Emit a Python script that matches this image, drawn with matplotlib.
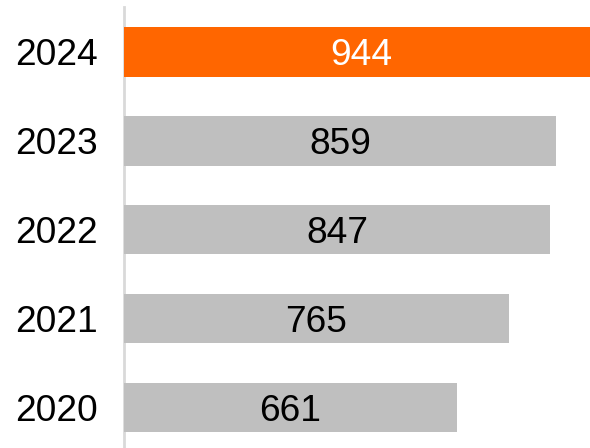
import matplotlib
matplotlib.use("Agg")
import matplotlib.pyplot as plt

years = ["2020", "2021", "2022", "2023", "2024"]
values = [661, 765, 847, 859, 944]
colors = ["#bfbfbf", "#bfbfbf", "#bfbfbf", "#bfbfbf", "#ff6600"]
label_colors = ["black", "black", "black", "black", "white"]

plt.rcParams['font.family'] = ['Liberation Sans', 'DejaVu Sans']
FS = 26.7

fig = plt.figure(figsize=(5.9, 4.48), dpi=100)
ax = fig.add_axes([124/590, 0, 1 - 124/590, 441/448])
pos = list(range(len(years)))
ax.barh(pos, values, height=0.557, color=colors, zorder=2)
for p, v, c in zip(pos, values, label_colors):
    ax.annotate(str(v), (v / 2, p), xytext=(0, -0.716 * FS / 2), textcoords="offset points",
                ha="center", va="baseline", fontsize=FS, color=c, zorder=3)

ax.set_xlim(0, 926)
ax.set_ylim(-0.456, 4.506)
ax.set_yticks(pos)
ax.set_yticklabels(years, fontsize=FS)
ax.tick_params(axis="y", length=0, pad=19)
ax.set_xticks([])
for s in ["top", "right", "bottom"]:
    ax.spines[s].set_visible(False)
ax.spines["left"].set_color("#d9d9d9")
ax.spines["left"].set_linewidth(2)
ax.spines["left"].set_zorder(1)

fig.savefig("out.png", dpi=100)
